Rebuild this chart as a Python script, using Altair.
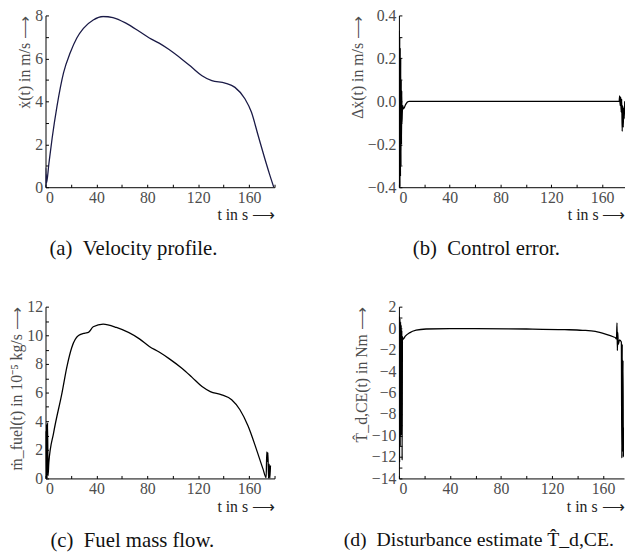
import altair as alt
import pandas as pd

# ---------------- data ----------------
# (a) velocity profile
t_a = [0, 0.2, 0.4, 0.6, 0.8, 2.6, 5.2, 9.1, 14.2, 19.4, 24.6, 29.8, 37.5, 45.3, 53, 63.5,
       73.8, 81.6, 89.3, 97.1, 107.4, 115.2, 123, 130.7, 141.1, 148.9, 156.7, 161.8,
       167, 172.2, 176.1, 179.4]
v_a = [0, 0.9, 0.1, 0.6, 0.2, 1.07, 2.28, 3.8, 5.34, 6.26, 6.95, 7.4, 7.79, 7.95, 7.9, 7.63,
       7.25, 6.95, 6.71, 6.41, 5.95, 5.57, 5.19, 4.96, 4.85, 4.65, 4.12, 3.5,
       2.43, 1.36, 0.6, 0]

# (b) control error
t_b = [0, 0.2, 0.4, 0.6, 0.8, 1.0, 1.2, 1.4, 1.6, 1.8, 2.0, 2.2, 2.4, 2.6, 3.0, 3.5, 4.2,
       5, 6, 7, 8, 100, 173.4, 173.8, 174.2, 174.6, 175.0, 175.4, 175.8, 176.2, 176.6,
       177.0, 177.4, 177.8]
v_b = [0, 0.33, -0.4, 0.3, -0.4, 0.25, -0.35, 0.2, -0.3, 0.1, -0.2, 0.05, -0.1, -0.06,
       -0.02, -0.035, -0.03, -0.018, -0.008, -0.002, 0, 0, 0, 0.025, -0.02, 0.02, -0.05,
       0.01, -0.14, -0.02, -0.12, -0.03, -0.08, 0.0]

# (c) fuel mass flow
t_c = [0, 0.4, 0.8, 1.2, 1.6, 2.0, 2.6, 6.4, 13.0, 16.8, 20.7, 25.9, 31, 33.7, 37.5, 45.3,
       55.7, 73.8, 81.6, 89.3, 97.1, 107.4, 115.2, 123, 129.5, 138.5, 146.3, 152.8, 159.2,
       165.7, 170.9, 173.4, 173.9, 174.4, 174.8, 175.3, 175.8, 176.3, 176.8]
v_c = [3.3, 0, 3.8, 0, 3.9, 0.2, 1.1, 3.2, 6.0, 7.8, 9.17, 9.98, 10.15, 10.2, 10.6, 10.78,
       10.55, 9.75, 9.22, 8.83, 8.37, 7.68, 7.06, 6.42, 6.07, 5.84, 5.5, 4.8, 3.66,
       2.05, 0.67, 0.05, 1.85, 1.2, 1.8, 0.0, 1.0, 0.0, 0.9]

# (d) disturbance estimate
t_d = [0, 0.25, 0.5, 0.75, 1.0, 1.25, 1.5, 1.75, 2.0, 2.25, 2.5, 2.75, 3.1, 5, 8.3, 13.5,
       21.3, 40, 60, 100, 130, 144, 154, 162, 168, 169.8, 170.6, 171.0, 171.3, 171.6, 172,
       173, 174.4, 174.8, 175.1, 175.4, 175.7, 176.0, 176.3, 176.6]
v_d = [0, 1.1, -12.5, 0.9, -11, 0.6, -10, 0.3, -9.8, -0.2, -12.3, -0.8, -1.05, -0.75,
       -0.44, -0.19, -0.08, -0.04, -0.05, -0.08, -0.14, -0.2, -0.3, -0.55, -0.8, -0.9, -1.0,
       0.5, -2.1, -0.4, -1.5, -1.1, -1.3, -12.1, -1.5, -11.5, -3, -12.0, -9.3, -9.5]

x_major = [0, 40, 80, 120, 160]
x_minor = [0, 20, 40, 60, 80, 100, 120, 140, 160, 180]

FONT = "Liberation Serif"
H = 174
SP = "\u2002"


def panel(t, v, xmax, width, ydom, ymajor, yminor, fmt, ytitle, caption, cap_dx, color,
          cap_size=21):
    df = pd.DataFrame({"t": t, "v": v})
    xs = alt.Scale(domain=[0, xmax], nice=False, zero=False)
    ys = alt.Scale(domain=ydom, nice=False, zero=False)
    main = alt.Chart(df).mark_line(
        color=color, strokeWidth=1.3, interpolate="monotone", clip=True
    ).encode(
        x=alt.X("t:Q", scale=xs, axis=alt.Axis(
            values=x_major, ticks=False, grid=False, format="d",
            domainColor="black", domainWidth=1,
            labelFont=FONT, labelFontSize=16, labelColor="#4d4d4d", labelPadding=2,
            title="t in s ⟶", titleAnchor="end", titleFont=FONT, titleFontSize=16,
            titleFontWeight="normal", titleColor="#222", titlePadding=2)),
        y=alt.Y("v:Q", scale=ys, axis=alt.Axis(
            values=ymajor, ticks=False, grid=False, format=fmt,
            domainColor="black", domainWidth=1,
            labelFont=FONT, labelFontSize=16, labelColor="#4d4d4d", labelPadding=3,
            title=ytitle, titleAnchor="end", titleFont=FONT, titleFontSize=16,
            titleFontWeight="normal", titleColor="#4d4d4d", titlePadding=2)),
    )
    minor = alt.Chart(df).mark_line(opacity=0, clip=True).encode(
        x=alt.X("t:Q", scale=xs, axis=alt.Axis(
            orient="top", offset=-H, values=x_minor, labels=False, domain=False,
            tickSize=3, tickColor="black", grid=False, title=None)),
        y=alt.Y("v:Q", scale=ys, axis=alt.Axis(
            orient="right", offset=-width, values=yminor, labels=False, domain=False,
            tickSize=3, tickColor="black", grid=False, title=None)),
    )
    return alt.layer(main, minor).resolve_axis(
        x="independent", y="independent"
    ).properties(
        width=width, height=H,
        title=alt.TitleParams(caption, orient="bottom", anchor="start", frame="group",
                              dx=cap_dx, offset=16, font=FONT, fontSize=cap_size,
                              fontWeight="normal", color="#111"),
    )


pa = panel(t_a, v_a, 180, 232, [0, 8], [0, 2, 4, 6, 8], [0, 1, 2, 3, 4, 5, 6, 7, 8], "d",
           "ẋ(t) in m/s ⟶", "(a)" + SP + "Velocity profile.", 4, "#1a1a46")
pb = panel(t_b, v_b, 178, 229, [-0.4, 0.4], [-0.4, -0.2, 0.0, 0.2, 0.4],
           [-0.4, -0.3, -0.2, -0.1, 0.0, 0.1, 0.2, 0.3, 0.4], ".1f",
           "Δẋ(t) in m/s ⟶", "(b)" + SP + "Control error.", 14, "black")
pc = panel(t_c, v_c, 180, 232, [0, 12], [0, 2, 4, 6, 8, 10, 12], list(range(0, 13)), "d",
           "ṁ_fuel(t) in 10⁻⁵ kg/s ⟶", "(c)" + SP + "Fuel mass flow.", 5, "black")
pd_ = panel(t_d, v_d, 176.5, 228, [-14, 2], list(range(-14, 3, 2)), list(range(-14, 3)), "d",
            "T̂_d,CE(t) in Nm ⟶", "(d)" + SP + "Disturbance estimate T̂_d,CE.", -56, "black",
            cap_size=20)

chart = alt.concat(
    pa, pb, pc, pd_, columns=2, bounds="flush",
    spacing=alt.RowColnumber(row=121, column=126),
).properties(
    padding={"left": 0, "top": -4, "right": 0, "bottom": 0}
).configure_view(stroke=None)

chart.save("out.html", embed_options={"renderer": "svg", "actions": False})
